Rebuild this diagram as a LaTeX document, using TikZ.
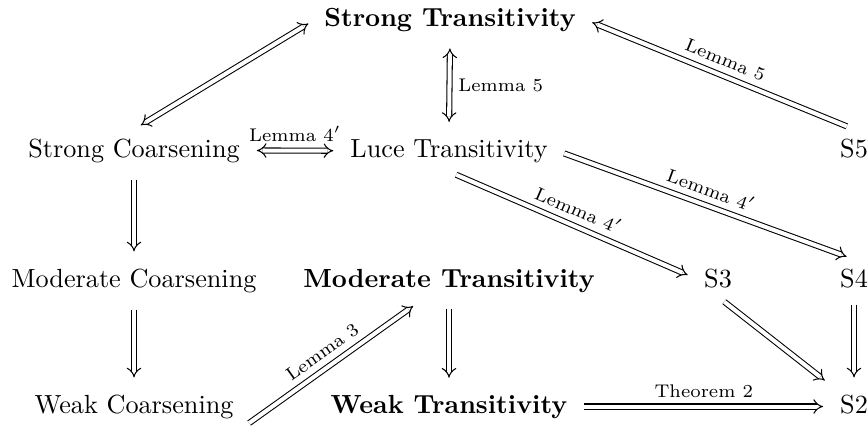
\documentclass[tikz,border=0pt]{standalone}
\usetikzlibrary{arrows.meta}
\begin{document}
\begin{tikzpicture}[x=0.38168pt,y=-0.38168pt,
  cell/.style={anchor=base, inner sep=3.33pt},
  imp/.style={double, double equal sign distance, -{Implies}, shorten <=3pt, shorten >=3pt},
  bimp/.style={double, double equal sign distance, {Implies}-{Implies}, shorten <=3pt, shorten >=3pt},
  elab/.style={font=\scriptsize, inner sep=3.2pt}]
\useasboundingbox (0,0) rectangle (868,425);
% nodes
\node[cell] (st) at (450,26) {\textbf{Strong Transitivity}};
\node[cell] (sc) at (134,157) {Strong Coarsening};
\node[cell] (lt) at (449,157) {Luce Transitivity};
\node[cell] (s5) at (854,157) {S5};
\node[cell] (mc) at (134,287) {Moderate Coarsening};
\node[cell] (mt) at (449,287) {\textbf{Moderate Transitivity}};
\node[cell] (s3) at (718,287) {S3};
\node[cell] (s4) at (854,287) {S4};
\node[cell] (wc) at (134,413) {Weak Coarsening};
\node[cell] (wt) at (449,413) {\textbf{Weak Transitivity}};
\node[cell] (s2) at (854,413) {S2};
% arrows
\draw[bimp] (sc.north) -- (st.west);
\draw[bimp] (st.south) -- node[elab, right] {Lemma 5} (lt.north);
\draw[imp] (s5.north) -- node[elab, above, sloped] {Lemma 5} (st.east);
\draw[bimp] (sc.east) -- node[elab, above] {Lemma $4'$} (lt.west);
\draw[imp] (lt.east) -- node[elab, above, sloped] {Lemma $4'$} (s4.north);
\draw[imp] (lt.south) -- node[elab, above, sloped] {Lemma $4'$} (s3.west);
\draw[imp] (sc.south) -- (mc.north);
\draw[imp] (mc.south) -- (wc.north);
\draw[imp] (wc.south east) -- node[elab, above, sloped] {Lemma 3} (mt);
\draw[imp] (mt.south) -- (wt.north);
\draw[imp] (wt.east) -- node[elab, above] {Theorem 2} (wt.east -| s2.west);
\draw[imp] (s3.south) -- (s2.north west);
\draw[imp] (s4.south) -- (s2.north);
\end{tikzpicture}
\end{document}
